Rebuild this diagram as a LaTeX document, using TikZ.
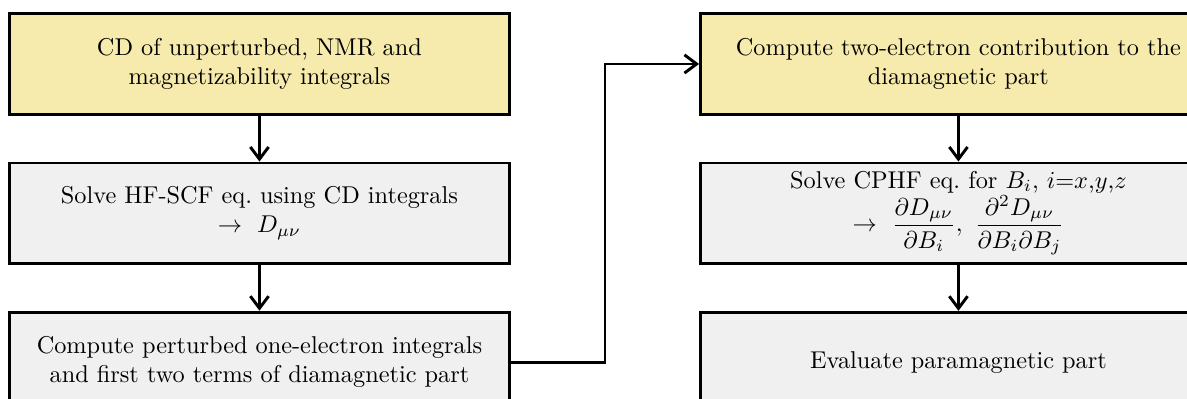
\documentclass[tikz,border=0pt]{standalone}
\usepackage{amsmath}
\usepackage{amssymb}
\usepackage{xcolor}
\usepackage{tikz}
\usetikzlibrary{arrows.meta,shapes,positioning,calc}

\definecolor{cdyellow}{RGB}{246,235,172}
\definecolor{taskgray}{RGB}{240,240,240}

\begin{document}
\begin{tikzpicture}[
    node distance=0.665cm,
    task/.style={draw, very thick, rectangle, minimum height=1.45cm, align=center, fill=taskgray},
    lefttask/.style={task, minimum width=7.23cm},
    righttask/.style={task, minimum width=7.46cm},
    arrow/.style={->, very thick, >={Straight Barb[length=5pt,width=7.5pt]}}
]
\useasboundingbox (-3.752,0.925) rectangle (13.412,-4.844);

\node[lefttask, fill=cdyellow] (cd) {CD of unperturbed, NMR and\\magnetizability integrals};
\node[lefttask, below=of cd] (hfscf) {Solve HF-SCF eq.\ using CD integrals\\$\rightarrow\ D_{\mu\nu}$};
\node[lefttask, below=of hfscf] (pert) {Compute perturbed one-electron integrals\\and first two terms of diamagnetic part};

\node[righttask, fill=cdyellow, right=2.72cm of cd] (twoel) {Compute two-electron contribution to the\\diamagnetic part};
\node[righttask, below=of twoel] (cphf) {Solve CPHF eq.\ for $B_i$, $i$=$x$,$y$,$z$\\$\rightarrow\ \dfrac{\partial D_{\mu\nu}}{\partial B_i},\ \dfrac{\partial^2 D_{\mu\nu}}{\partial B_i\partial B_j}$};
\node[righttask, below=of cphf] (para) {Evaluate paramagnetic part};

\draw[arrow] (cd) -- (hfscf);
\draw[arrow] (hfscf) -- (pert);
\draw[arrow] (pert.east) -- ++(1.36,0) |- (twoel.west);
\draw[arrow] (twoel) -- (cphf);
\draw[arrow] (cphf) -- (para);

\end{tikzpicture}
\end{document}
